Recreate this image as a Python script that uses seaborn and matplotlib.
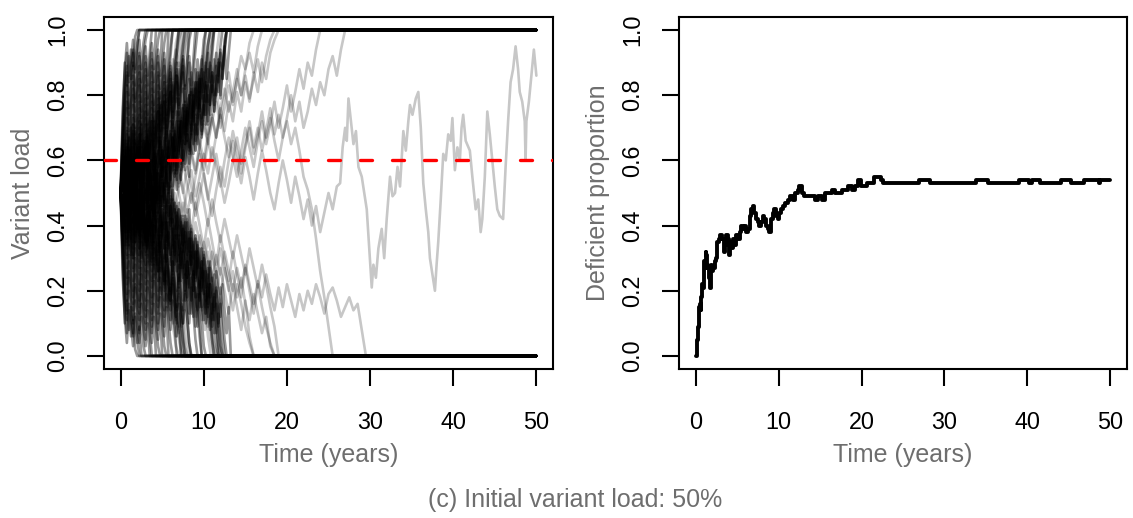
import matplotlib
matplotlib.use("Agg")
import matplotlib.pyplot as plt
import pandas as pd
import seaborn as sns

# ---------------- data (variant load in %, read/estimated from the picture) ----------------
# densely overlapping runs that end up at 0 %, one value every 0.25 years
runs_low = [
    [50, 24, 12, 4, 14, 6, 11, 2, 0],
    [50, 30, 14, 7, 16, 9, 3, 12, 5, 0],
    [50, 28, 10, 17, 8, 15, 6, 13, 4, 9, 0],
    [50, 34, 18, 11, 20, 13, 7, 17, 9, 4, 12, 3, 0],
    [50, 36, 20, 13, 24, 16, 10, 21, 13, 7, 16, 8, 3, 10, 0],
    [50, 32, 23, 14, 26, 18, 11, 22, 15, 8, 19, 11, 5, 14, 7, 0],
    [50, 38, 26, 17, 29, 21, 14, 25, 18, 11, 22, 14, 8, 17, 10, 4, 12, 0],
    [50, 35, 28, 19, 31, 23, 16, 28, 20, 13, 25, 17, 10, 21, 13, 7, 16, 9, 3, 0],
    [50, 40, 31, 22, 34, 25, 18, 30, 22, 15, 27, 19, 12, 23, 16, 9, 19, 12, 5, 13, 0],
    [50, 39, 33, 24, 37, 28, 20, 33, 25, 17, 29, 22, 14, 26, 19, 11, 23, 15, 8, 18, 10, 3, 0],
    [50, 42, 36, 27, 39, 31, 23, 35, 28, 20, 32, 24, 17, 29, 21, 13, 25, 18, 10, 21, 13, 6, 15, 0],
    [50, 44, 37, 30, 41, 33, 26, 38, 30, 22, 35, 27, 20, 31, 24, 16, 28, 20, 13, 24, 16, 9, 19, 11, 4, 0],
    [50, 45, 39, 31, 43, 35, 27, 40, 32, 25, 37, 29, 22, 34, 26, 18, 30, 23, 15, 27, 19, 12, 23, 15, 8, 17, 9, 0],
    [50, 46, 41, 33, 45, 37, 30, 42, 34, 27, 39, 31, 24, 36, 28, 21, 33, 25, 17, 29, 21, 14, 26, 18, 11, 22, 14, 6, 16, 0],
    [50, 44, 40, 34, 46, 38, 31, 43, 36, 29, 41, 33, 26, 38, 30, 23, 35, 27, 20, 32, 24, 17, 29, 21, 14, 25, 17, 10, 21, 13, 5, 0],
    [50, 47, 43, 35, 48, 40, 33, 45, 38, 31, 43, 35, 28, 40, 33, 26, 37, 30, 23, 35, 27, 20, 31, 24, 17, 29, 21, 14, 25, 17, 10, 20, 12, 4, 0],
    [50, 45, 44, 38, 49, 42, 35, 47, 40, 33, 44, 37, 31, 42, 35, 28, 40, 32, 26, 37, 30, 23, 34, 27, 20, 32, 24, 17, 28, 21, 14, 25, 18, 10, 21, 13, 5, 0],
    [50, 48, 46, 39, 51, 43, 37, 48, 41, 35, 46, 39, 32, 44, 37, 30, 42, 35, 28, 40, 32, 25, 37, 29, 22, 34, 27, 20, 31, 24, 17, 28, 21, 13, 24, 16, 9, 19, 11, 0],
    [50, 47, 48, 41, 53, 45, 39, 50, 43, 37, 48, 41, 35, 46, 40, 33, 45, 38, 31, 43, 36, 30, 41, 34, 28, 39, 33, 26, 37, 30, 24, 35, 28, 21, 32, 25, 18, 30, 22, 15, 26, 19, 12, 22, 14, 7, 16, 0],
    [50, 53, 49, 43, 55, 47, 41, 52, 45, 39, 50, 44, 37, 49, 42, 36, 47, 41, 34, 46, 39, 33, 44, 38, 31, 42, 36, 29, 40, 34, 27, 38, 32, 25, 36, 30, 23, 34, 27, 21, 32, 25, 18, 29, 22, 15, 26, 19, 12, 22, 14, 7, 15, 0],
    [50, 43, 54, 47, 39, 51, 44, 56, 48, 41, 53, 45, 38, 50, 43, 35, 47, 40, 32, 44, 37, 29, 41, 34, 46, 38, 31, 43, 35, 27, 39, 31, 24, 36, 28, 20, 32, 24, 17, 29, 21, 13, 25, 17, 9, 19, 11, 4, 0],
    [50, 57, 63, 55, 67, 59, 71, 63, 56, 68, 60, 52, 64, 56, 48, 60, 52, 44, 56, 48, 40, 52, 44, 36, 48, 40, 32, 44, 36, 28, 40, 32, 24, 36, 28, 20, 32, 24, 15, 27, 19, 10, 22, 13, 5, 0],
    [50, 54, 45, 49, 40, 52, 44, 48, 39, 51, 43, 47, 38, 50, 42, 34, 46, 38, 42, 33, 45, 37, 29, 41, 33, 25, 37, 29, 21, 33, 25, 17, 29, 21, 13, 25, 17, 9, 19, 11, 3, 0],
    [50, 42, 53, 45, 57, 49, 41, 53, 45, 37, 49, 57, 45, 53, 41, 49, 57, 45, 37, 49, 41, 33, 45, 53, 41, 33, 45, 37, 29, 41, 33, 25, 37, 45, 33, 25, 37, 29, 21, 33, 25, 17, 29, 21, 13, 25, 17, 9, 21, 13, 5, 0],
    [50, 45, 39, 48, 42, 36, 45, 53, 44, 38, 47, 41, 35, 44, 50, 41, 35, 44, 38, 32, 41, 35, 29, 38, 32, 26, 35, 29, 23, 32, 26, 20, 29, 23, 17, 26, 20, 14, 23, 17, 11, 20, 14, 8, 16, 10, 4, 0],
]

# densely overlapping runs that end up at 100 %, one value every 0.25 years
runs_high = [
    [50, 76, 88, 96, 86, 94, 89, 98, 100],
    [50, 70, 86, 93, 84, 91, 97, 88, 95, 100],
    [50, 72, 90, 83, 92, 85, 94, 87, 96, 100],
    [50, 66, 82, 89, 80, 87, 93, 83, 91, 97, 88, 96, 100],
    [50, 64, 80, 87, 76, 84, 90, 79, 87, 93, 84, 92, 97, 100],
    [50, 68, 77, 86, 74, 82, 89, 78, 85, 92, 81, 89, 95, 86, 93, 100],
    [50, 62, 74, 83, 71, 79, 86, 75, 82, 89, 78, 86, 92, 83, 90, 96, 88, 100],
    [50, 65, 72, 81, 69, 77, 84, 72, 80, 87, 75, 83, 90, 79, 87, 93, 84, 91, 97, 100],
    [50, 60, 69, 78, 66, 75, 82, 70, 78, 85, 73, 81, 88, 77, 84, 91, 81, 88, 94, 86, 100],
    [50, 61, 67, 76, 63, 72, 80, 68, 75, 83, 71, 78, 86, 74, 81, 89, 77, 85, 92, 82, 90, 96, 100],
    [50, 58, 64, 73, 61, 69, 77, 65, 72, 80, 68, 76, 83, 71, 79, 87, 75, 82, 90, 79, 86, 93, 84, 100],
    [50, 56, 63, 70, 59, 67, 74, 62, 70, 78, 66, 73, 81, 69, 76, 84, 72, 80, 87, 76, 83, 91, 80, 88, 95, 100],
    [50, 55, 61, 69, 58, 65, 73, 60, 68, 76, 64, 71, 79, 67, 75, 82, 70, 78, 86, 74, 81, 89, 78, 85, 92, 100],
    [50, 57, 62, 68, 56, 64, 71, 59, 66, 74, 62, 69, 77, 65, 72, 80, 68, 75, 83, 71, 78, 86, 74, 82, 89, 78, 86, 93, 100],
    [50, 54, 58, 66, 55, 62, 69, 57, 64, 72, 60, 67, 75, 63, 70, 78, 66, 73, 81, 69, 76, 84, 72, 79, 87, 75, 83, 90, 80, 88, 95, 100],
    [50, 56, 59, 65, 53, 61, 68, 56, 63, 70, 58, 66, 73, 61, 68, 76, 64, 71, 79, 67, 74, 82, 70, 77, 85, 73, 81, 88, 77, 84, 91, 82, 90, 97, 100],
    [50, 53, 56, 63, 51, 59, 66, 54, 61, 68, 56, 63, 71, 59, 66, 74, 62, 69, 77, 65, 72, 80, 68, 75, 83, 71, 78, 86, 74, 82, 89, 78, 85, 92, 83, 91, 100],
    [50, 55, 55, 61, 49, 57, 64, 52, 59, 66, 54, 61, 69, 57, 64, 72, 60, 67, 75, 63, 70, 78, 66, 73, 81, 69, 76, 84, 72, 79, 87, 75, 83, 90, 80, 87, 94, 100],
    [50, 54, 52, 59, 47, 55, 62, 50, 57, 64, 52, 59, 66, 54, 61, 68, 56, 63, 71, 59, 66, 73, 61, 68, 76, 64, 71, 79, 67, 74, 82, 70, 77, 85, 73, 80, 88, 76, 83, 91, 81, 88, 95, 100],
    [50, 47, 51, 58, 46, 54, 60, 48, 56, 62, 50, 57, 64, 52, 59, 66, 54, 61, 67, 55, 62, 70, 58, 65, 72, 60, 67, 75, 63, 70, 77, 65, 72, 80, 68, 75, 82, 71, 78, 85, 74, 81, 88, 77, 84, 91, 80, 87, 94, 85, 93, 100],
    [50, 57, 46, 54, 61, 49, 56, 44, 52, 59, 47, 55, 62, 50, 57, 45, 53, 60, 48, 56, 63, 51, 58, 66, 54, 61, 69, 57, 64, 72, 60, 67, 75, 63, 70, 78, 66, 73, 81, 69, 76, 84, 72, 79, 87, 75, 82, 90, 80, 88, 95, 100],
    [50, 44, 38, 46, 34, 42, 30, 38, 45, 33, 41, 48, 36, 44, 52, 40, 48, 56, 44, 52, 60, 48, 56, 64, 52, 60, 68, 56, 64, 72, 60, 68, 76, 64, 72, 80, 68, 76, 85, 73, 81, 90, 78, 87, 95, 100],
    [50, 46, 55, 51, 60, 48, 56, 52, 61, 49, 57, 53, 62, 50, 58, 66, 54, 62, 58, 67, 55, 63, 71, 59, 67, 75, 63, 71, 79, 67, 75, 83, 71, 79, 87, 75, 83, 91, 81, 89, 97, 100],
    [50, 58, 47, 55, 43, 51, 59, 47, 55, 63, 51, 43, 55, 47, 59, 51, 43, 55, 63, 51, 59, 67, 55, 47, 59, 67, 55, 63, 71, 59, 67, 75, 63, 55, 67, 75, 63, 71, 79, 67, 75, 83, 71, 79, 87, 75, 83, 91, 79, 87, 95, 85, 93, 100],
    [50, 55, 61, 52, 58, 64, 55, 47, 56, 62, 53, 59, 65, 56, 48, 57, 63, 54, 60, 66, 57, 63, 69, 60, 66, 72, 63, 69, 75, 66, 72, 78, 69, 75, 81, 72, 78, 84, 75, 81, 87, 78, 84, 90, 81, 87, 93, 86, 95, 100],
]

# runs that stay near the middle for several years, one value every 0.25 years
runs_centre = [
    [50, 42, 53, 44, 38, 49, 41, 52, 43, 36, 47, 40, 51, 44, 37, 48, 42, 53, 45, 38, 49, 43, 35, 46, 40, 51, 43, 36, 47, 39, 32, 43, 36, 28, 39, 31, 24, 35, 27, 20, 31, 23, 16, 27, 19, 11, 21, 13, 5, 0],
    [50, 58, 47, 56, 63, 52, 60, 49, 57, 64, 53, 61, 50, 58, 65, 54, 62, 51, 59, 66, 55, 63, 52, 60, 68, 57, 65, 72, 61, 69, 76, 65, 73, 80, 69, 77, 84, 73, 81, 88, 78, 86, 93, 84, 92, 100],
    [50, 41, 47, 36, 44, 39, 48, 35, 43, 38, 47, 34, 42, 37, 46, 40, 49, 43, 52, 45, 54, 47, 56, 50, 58, 52, 61, 54, 63, 57, 66, 59, 68, 62, 71, 65, 74, 68, 77, 71, 80, 74, 83, 77, 86, 80, 89, 84, 93, 88, 97, 100],
    [50, 59, 53, 64, 56, 61, 52, 65, 57, 62, 53, 66, 58, 63, 54, 60, 51, 57, 48, 55, 46, 53, 44, 50, 42, 48, 39, 46, 37, 43, 34, 41, 31, 38, 28, 35, 25, 32, 22, 29, 19, 26, 15, 22, 11, 18, 7, 13, 3, 0],
    [50, 56, 45, 53, 59, 48, 55, 44, 52, 58, 47, 54, 60, 49, 56, 45, 53, 61, 50, 57, 46, 54, 62, 51, 59, 67, 56, 64, 72, 61, 69, 77, 66, 74, 82, 71, 79, 87, 76, 85, 93, 100],
    [50, 44, 55, 47, 41, 52, 45, 56, 48, 42, 53, 46, 40, 51, 44, 55, 47, 41, 50, 43, 37, 46, 39, 33, 42, 35, 28, 37, 30, 23, 32, 25, 18, 27, 20, 12, 21, 14, 6, 0],
    [50, 60, 66, 57, 64, 70, 59, 66, 57, 65, 71, 60, 67, 58, 66, 72, 61, 68, 75, 64, 71, 78, 67, 74, 81, 70, 78, 86, 76, 84, 92, 83, 91, 100],
    [50, 40, 34, 43, 37, 31, 42, 35, 44, 37, 30, 41, 34, 43, 36, 29, 40, 33, 26, 37, 30, 23, 33, 26, 19, 29, 22, 15, 24, 17, 10, 19, 12, 4, 0],
    [50, 46, 55, 49, 57, 51, 45, 54, 48, 57, 50, 44, 53, 47, 56, 50, 44, 53, 47, 56, 49, 58, 52, 61, 54, 48, 57, 51, 60, 54, 63, 57, 66, 59, 68, 62, 71, 65, 74, 68, 77, 71, 80, 74, 83, 77, 86, 81, 90, 85, 94, 100],
    [50, 53, 45, 51, 43, 49, 55, 47, 53, 45, 51, 57, 48, 54, 46, 52, 44, 50, 56, 47, 53, 45, 51, 43, 49, 41, 47, 39, 45, 37, 43, 35, 41, 32, 38, 30, 36, 27, 33, 24, 30, 21, 27, 18, 24, 14, 20, 10, 16, 6, 0],
]

# medium runs, one value every 0.35 years
runs_dt035 = [
    [50, 58, 49, 61, 54, 43, 52, 60, 47, 56, 65, 58, 70, 62, 74, 68, 79, 72, 84, 78, 90, 85, 95, 100],
    [50, 42, 53, 46, 38, 49, 57, 45, 36, 44, 33, 41, 29, 37, 26, 34, 22, 30, 18, 12, 20, 9, 14, 4, 0],
    [50, 45, 56, 63, 51, 44, 55, 48, 60, 67, 59, 53, 64, 71, 62, 75, 69, 80, 73, 86, 79, 91, 100],
    [50, 59, 48, 55, 44, 37, 46, 52, 40, 34, 43, 31, 25, 36, 28, 21, 30, 17, 24, 13, 7, 15, 3, 0],
    [50, 56, 62, 52, 46, 57, 64, 58, 50, 61, 69, 60, 72, 66, 77, 71, 63, 76, 83, 74, 88, 81, 93, 100],
    [50, 44, 38, 47, 55, 43, 49, 36, 41, 30, 38, 45, 33, 26, 35, 22, 28, 17, 24, 11, 18, 6, 0],
    [50, 41, 49, 58, 52, 61, 55, 47, 59, 66, 57, 70, 64, 76, 68, 60, 72, 81, 75, 87, 82, 94, 100],
    [50, 57, 63, 54, 46, 52, 42, 50, 39, 33, 44, 36, 28, 39, 31, 22, 27, 16, 23, 12, 19, 8, 0],
    [50, 53, 44, 52, 61, 55, 67, 60, 54, 65, 73, 66, 59, 70, 78, 71, 83, 77, 88, 94, 89, 100],
    [50, 46, 55, 61, 50, 43, 51, 39, 47, 35, 42, 31, 37, 26, 33, 41, 29, 20, 26, 15, 9, 16, 5, 0],
    [50, 60, 52, 45, 55, 62, 54, 66, 59, 71, 64, 57, 68, 75, 69, 80, 74, 86, 79, 91, 97, 100],
    [50, 43, 36, 45, 52, 41, 47, 35, 29, 38, 31, 24, 33, 27, 19, 26, 14, 21, 10, 16, 5, 0],
    [50, 47, 58, 51, 63, 56, 48, 57, 66, 61, 72, 65, 58, 69, 77, 70, 82, 88, 81, 93, 100],
    [50, 55, 47, 40, 49, 37, 44, 52, 42, 34, 40, 28, 35, 23, 31, 25, 17, 22, 12, 6, 13, 2, 0],
    [50, 58, 50, 43, 53, 60, 55, 64, 57, 68, 62, 73, 67, 79, 72, 84, 77, 90, 85, 96, 100],
    [50, 45, 52, 44, 36, 42, 31, 39, 46, 37, 29, 35, 24, 30, 20, 27, 15, 21, 9, 3, 0],
    [50, 54, 62, 57, 49, 59, 66, 60, 53, 64, 70, 63, 75, 69, 81, 76, 70, 83, 91, 86, 100],
    [50, 40, 47, 55, 45, 38, 48, 41, 33, 39, 28, 35, 43, 34, 26, 31, 21, 16, 24, 12, 7, 0],
    [50, 56, 47, 55, 62, 53, 46, 54, 61, 68, 59, 52, 60, 66, 57, 50, 58, 64, 71, 63, 69, 76, 68, 74, 81, 73, 79, 86, 80, 74, 83, 89, 84, 93, 100],
    [50, 44, 52, 45, 38, 47, 54, 46, 40, 33, 41, 48, 39, 32, 37, 44, 35, 29, 36, 27, 22, 30, 24, 17, 25, 19, 12, 20, 14, 8, 15, 5, 0],
    [50, 42, 49, 41, 35, 44, 51, 45, 38, 47, 55, 48, 57, 63, 54, 61, 52, 59, 67, 60, 70, 64, 73, 79, 71, 78, 84, 77, 88, 82, 92, 97, 100],
    [50, 57, 64, 56, 61, 69, 60, 55, 63, 57, 49, 56, 47, 53, 44, 39, 48, 42, 34, 40, 31, 37, 28, 22, 31, 25, 18, 24, 14, 19, 9, 13, 4, 0],
    [50, 55, 60, 51, 45, 53, 47, 40, 48, 56, 50, 44, 52, 59, 53, 62, 68, 60, 66, 58, 65, 72, 67, 75, 70, 80, 74, 85, 79, 89, 84, 94, 100],
    [50, 46, 39, 48, 55, 49, 58, 52, 45, 54, 47, 41, 50, 43, 36, 44, 38, 31, 39, 33, 27, 35, 29, 21, 28, 23, 15, 22, 11, 17, 6, 0],
    [50, 59, 52, 45, 53, 46, 39, 45, 52, 47, 56, 62, 55, 49, 58, 66, 61, 69, 63, 57, 65, 73, 68, 77, 71, 82, 76, 87, 81, 91, 96, 100],
    [50, 53, 61, 67, 59, 66, 73, 65, 58, 64, 55, 60, 52, 46, 55, 49, 41, 47, 38, 44, 35, 30, 37, 26, 32, 23, 29, 18, 24, 13, 19, 8, 0],
    [50, 44, 53, 60, 54, 47, 41, 49, 43, 36, 44, 51, 45, 54, 48, 57, 64, 58, 67, 61, 70, 65, 74, 68, 78, 84, 77, 86, 92, 87, 96, 100],
    [50, 57, 49, 56, 64, 70, 62, 68, 75, 67, 61, 69, 60, 53, 59, 51, 45, 52, 43, 37, 45, 39, 32, 38, 28, 34, 25, 19, 26, 15, 21, 10, 4, 0],
]

# slow runs, one value every 0.5 years
runs_dt05 = [
    [50, 58, 49, 56, 63, 55, 48, 57, 51, 44, 52, 46, 55, 61, 53, 60, 68, 62, 56, 64, 71, 65, 72, 78, 70, 76, 83, 77, 85, 80, 88, 93, 87, 95, 100],
    [50, 43, 51, 58, 49, 42, 50, 44, 37, 45, 53, 46, 39, 47, 41, 34, 42, 36, 29, 37, 31, 24, 32, 26, 19, 27, 21, 14, 22, 16, 9, 4, 0],
    [50, 45, 54, 61, 52, 59, 66, 57, 50, 58, 64, 56, 63, 70, 62, 68, 75, 67, 73, 66, 60, 68, 74, 67, 76, 82, 75, 81, 88, 80, 86, 79, 85, 91, 84, 92, 97, 100],
    [50, 55, 47, 41, 49, 56, 48, 42, 36, 44, 38, 46, 52, 45, 39, 47, 40, 33, 41, 35, 28, 36, 30, 24, 33, 27, 20, 26, 18, 24, 16, 11, 19, 13, 7, 12, 3, 0],
    [50, 57, 64, 55, 62, 68, 59, 66, 72, 64, 70, 62, 56, 63, 57, 50, 58, 52, 45, 53, 47, 40, 48, 41, 35, 42, 36, 30, 37, 31, 25, 33, 27, 21, 28, 22, 15, 9, 0],
    [50, 44, 52, 59, 51, 45, 53, 60, 54, 62, 56, 49, 57, 64, 58, 51, 44, 50, 43, 49, 56, 48, 55, 62, 54, 47, 53, 60, 67, 59, 65, 72, 64, 70, 63, 69, 76, 68, 74, 67, 73, 80, 72, 78, 70, 75, 82, 77, 84, 80, 88, 92, 86, 94, 100],
    [50, 55, 47, 53, 60, 52, 46, 54, 49, 57, 63, 55, 48, 56, 50, 43, 51, 57, 49, 55, 62, 56, 64, 58, 52, 60, 67, 61, 55, 63, 70, 64, 58, 66, 72, 65, 71, 78, 70, 76, 83, 75, 81, 88, 82, 90, 86, 94, 100],
    [50, 56, 48, 55, 47, 40, 48, 42, 35, 43, 49, 41, 46, 38, 31, 39, 33, 40, 34, 27, 35, 29, 23, 31, 25, 32, 26, 20, 27, 21, 28, 22, 16, 23, 18, 25, 19, 14, 21, 15, 22, 17, 12, 19, 14, 20, 16, 22, 18, 13, 19, 21, 17, 12, 15, 18, 14, 16, 8, 0],
    [50, 57, 49, 56, 62, 54, 47, 55, 61, 68, 60, 53, 59, 66, 58, 64, 71, 63, 57, 65, 72, 66, 60, 68, 74, 67, 61, 69, 63, 56, 64, 70, 62, 68, 75, 67, 73, 66, 60, 67, 72, 65, 70, 63, 55, 51, 45, 36, 26, 18, 9, 0],
    [50, 56, 47, 55, 62, 52, 59, 66, 57, 64, 55, 62, 69, 60, 67, 58, 65, 72, 63, 70, 77, 68, 75, 82, 73, 80, 87, 78, 85, 92, 88, 96, 100],
    [50, 44, 53, 46, 39, 48, 41, 34, 43, 36, 45, 38, 31, 40, 33, 42, 35, 28, 37, 30, 23, 32, 25, 18, 27, 20, 13, 22, 15, 8, 17, 6, 0],
    [50, 45, 54, 48, 57, 51, 60, 54, 47, 56, 63, 57, 66, 59, 52, 61, 68, 62, 71, 64, 57, 66, 73, 67, 76, 69, 78, 72, 81, 75, 84, 78, 87, 81, 90, 85, 93, 97, 100],
    [50, 55, 48, 56, 49, 42, 51, 44, 53, 46, 39, 48, 41, 50, 43, 36, 45, 38, 47, 40, 33, 42, 35, 28, 37, 30, 23, 32, 25, 18, 27, 20, 13, 22, 15, 9, 4, 0],
]

# the one run still unfixed at 50 years (time in years, load in %)
survivor_time = [0, 0.5, 1, 1.5, 2, 2.5, 3, 3.5, 4, 4.5, 5, 5.5, 6, 6.5, 7, 7.5, 8, 8.5, 9, 9.5,
                 10, 10.5, 11, 11.5, 12, 12.5, 13, 13.5, 14, 14.5, 15, 15.5, 16, 16.5, 17, 17.5,
                 18, 18.5, 19, 19.5, 20, 20.5, 21, 21.5, 22, 22.5, 23, 23.5, 24, 24.5, 25, 25.5,
                 26, 26.4, 26.7, 27.0, 27.2, 27.4, 27.7, 28, 28.3, 28.6, 29, 29.3, 29.6, 29.9,
                 30.2, 30.4, 30.7, 31, 31.4, 31.7, 32, 32.4, 32.7, 33, 33.3, 33.6, 34, 34.3,
                 34.6, 34.8, 35.1, 35.5, 35.8, 36.1, 36.4, 36.7, 37, 37.2, 37.5, 37.8, 38,
                 38.2, 38.5, 38.8, 39.1, 39.4, 39.7, 39.9, 40.2, 40.5, 40.8, 41.0, 41.2, 41.5,
                 42, 42.3, 42.7, 43.0, 43.3, 43.5, 43.8, 44.1, 44.4, 44.7, 45, 45.3, 45.6, 46,
                 46.3, 46.6, 46.9, 47.2, 47.5, 47.8, 48, 48.3, 48.6, 48.7, 48.8, 49.1, 49.4,
                 49.7, 50]
survivor_load = [50, 56, 47, 53, 60, 51, 45, 54, 48, 41, 49, 57, 50, 44, 52, 59, 53, 47, 55, 62,
                 56, 49, 43, 51, 58, 52, 60, 66, 59, 53, 61, 55, 48, 56, 63, 57,
                 50, 45, 53, 60, 54, 47, 55, 49, 42, 48, 40, 46, 38, 44, 50, 45,
                 52, 53, 64, 70, 66, 79, 72, 65, 69, 58, 55, 50, 45, 33,
                 21, 28, 24, 33, 39, 30, 42, 55, 49, 50, 58, 52, 69, 63,
                 72, 77, 74, 79, 81, 70, 53, 45, 38, 30, 25, 20, 28,
                 35, 48, 62, 60, 68, 66, 73, 57, 64, 60, 70, 74, 66,
                 63, 55, 45, 48, 38, 42, 55, 75, 68, 60, 52, 45, 43, 42,
                 58, 72, 84, 88, 95, 88, 81, 78, 72, 60, 72, 78, 86,
                 94, 86]

# right panel: proportion of runs above the 60% threshold
prop_time = [0.1, 0.15, 0.2, 0.3, 0.4, 0.45, 0.55, 0.6, 0.7, 0.8, 0.9, 1.0, 1.05, 1.1, 1.2, 1.3,
             1.4, 1.5, 1.6, 1.7, 1.8, 1.9, 2.0, 2.1, 2.3, 2.5, 2.6, 2.8, 3.0, 3.2, 3.4, 3.5,
             3.7, 3.9, 4.0, 4.2, 4.4, 4.5, 4.7, 4.9, 5.1, 5.3, 5.5, 5.7, 5.9, 6.1, 6.3, 6.5,
             6.7, 6.9, 7.1, 7.3, 7.5, 7.7, 7.9, 8.1, 8.3, 8.5, 8.7, 8.9, 9.1, 9.3, 9.5, 9.7,
             9.9, 10.1, 10.3, 10.5, 10.8, 11.1, 11.4, 11.7, 12.0, 12.3, 12.5, 12.8, 13.1,
             13.5, 14.0, 14.4, 14.8, 15.2, 15.6, 16.0, 16.4, 16.8, 17.2, 17.6, 18.0, 18.4,
             18.8, 19.2, 19.6, 19.9, 20.3, 20.7, 21.1, 21.5, 21.9, 22.3, 22.6, 26.9, 28.3,
             33.8, 35.3, 39.0, 40.2, 40.5, 41.5, 44.0, 45.2, 46.8, 48.6, 48.8, 50.0]
prop_value = [0.00, 0.01, 0.05, 0.09, 0.10, 0.15, 0.16, 0.14, 0.18, 0.22, 0.21, 0.25, 0.29,
              0.27, 0.32, 0.31, 0.28, 0.27, 0.24, 0.21, 0.23, 0.28, 0.26, 0.27, 0.29, 0.30,
              0.35, 0.36, 0.37, 0.36, 0.32, 0.34, 0.37, 0.36, 0.31, 0.35, 0.33, 0.36, 0.34,
              0.37, 0.36, 0.38, 0.40, 0.39, 0.40, 0.38, 0.39, 0.43, 0.45, 0.46, 0.44, 0.42,
              0.41, 0.40, 0.41, 0.43, 0.42, 0.40, 0.39, 0.38, 0.42, 0.44, 0.45, 0.43, 0.42,
              0.44, 0.45, 0.46, 0.47, 0.48, 0.49, 0.48, 0.50, 0.51, 0.52, 0.50, 0.49, 0.49,
              0.49, 0.48, 0.49, 0.48, 0.50, 0.50, 0.51, 0.50, 0.50, 0.51, 0.51, 0.52, 0.51,
              0.52, 0.54, 0.52, 0.52, 0.53, 0.53, 0.55, 0.55, 0.54, 0.53, 0.54, 0.53, 0.54,
              0.53, 0.54, 0.53, 0.54, 0.53, 0.54, 0.53, 0.54, 0.53, 0.54, 0.54]

threshold = 0.6
x_ticks = [0, 10, 20, 30, 40, 50]
y_ticks = [0.0, 0.2, 0.4, 0.6, 0.8, 1.0]
y_tick_labels = ["0.0", "0.2", "0.4", "0.6", "0.8", "1.0"]
caption = "(c) Initial variant load: 50%"


# ---------------- build long tables ----------------
def to_rows(groups, start_id=0):
    rows, rid = [], start_id
    for group, dt in groups:
        for vals in group:
            for i, v in enumerate(vals):
                rows.append((rid, i * dt, v / 100))
            rows.append((rid, 50.0, vals[-1] / 100))  # fixed run stays at 0 or 1
            rid += 1
    return rows, rid


dense_rows, nid = to_rows([(runs_low, 0.25), (runs_high, 0.25), (runs_centre, 0.25)])
other_rows, nid = to_rows([(runs_dt035, 0.35), (runs_dt05, 0.5)], nid)
for t, v in zip(survivor_time, survivor_load):
    other_rows.append((nid, t, v / 100))
cols = ["run", "time", "load"]
df_dense = pd.DataFrame(dense_rows, columns=cols)
df_other = pd.DataFrame(other_rows, columns=cols)
df_prop = pd.DataFrame({"time": prop_time, "prop": prop_value})

# ---------------- style ----------------
sns.set_style("white")
plt.rcParams["font.family"] = ["Liberation Sans", "DejaVu Sans"]

W, H = 1133, 518
fig = plt.figure(figsize=(W / 100, H / 100), dpi=100)
ax1 = fig.add_axes([104 / W, 1 - 369 / H, 449 / W, 352 / H])
ax2 = fig.add_axes([679 / W, 1 - 369 / H, 448 / W, 352 / H])

sns.lineplot(data=df_other, x="time", y="load", units="run", estimator=None, sort=False,
             color="black", alpha=0.22, lw=1.9, ax=ax1, legend=False)
sns.lineplot(data=df_dense, x="time", y="load", units="run", estimator=None, sort=False,
             color="black", alpha=0.4, lw=1.9, ax=ax1, legend=False)
ax1.axhline(threshold, color="#ff0000", lw=2.4, dashes=(3.6, 6.0),
            dash_capstyle="round", zorder=10)

sns.lineplot(data=df_prop, x="time", y="prop", estimator=None, color="black", lw=2.8,
             drawstyle="steps-post", ax=ax2, legend=False)

label_color = "#6e6e6e"
for ax, ylab in ((ax1, "Variant load"), (ax2, "Deficient proportion")):
    ax.set_xlim(-2, 52)
    ax.set_ylim(-0.04, 1.04)
    ax.set_xticks(x_ticks)
    ax.set_xticklabels([str(x) for x in x_ticks])
    ax.set_yticks(y_ticks)
    ax.set_yticklabels(y_tick_labels, rotation=90, va="center")
    ax.tick_params(axis="both", direction="out", length=12, width=1.5, colors="black",
                   labelsize=16.8, left=True, bottom=True)
    ax.tick_params(axis="x", pad=18)
    ax.tick_params(axis="y", pad=13)
    for s in ax.spines.values():
        s.set_visible(True)
        s.set_color("black")
        s.set_linewidth(1.5)
    ax.set_xlabel("Time (years)", color=label_color, fontsize=18)
    ax.set_ylabel(ylab, color=label_color, fontsize=18)
    ax.xaxis.label.set_va("center")
    ax.yaxis.label.set_va("center")
    ax.xaxis.set_label_coords(0.5, (369 - 455) / 352)
    ax.grid(False)

ax1.yaxis.set_label_coords((23 - 104) / 449, 0.5)
ax2.yaxis.set_label_coords((598 - 679) / 448, 0.5)

fig.text(575 / W, 1 - 500 / H, caption, ha="center", va="center",
         color=label_color, fontsize=18)

fig.savefig("out.png", dpi=100)
